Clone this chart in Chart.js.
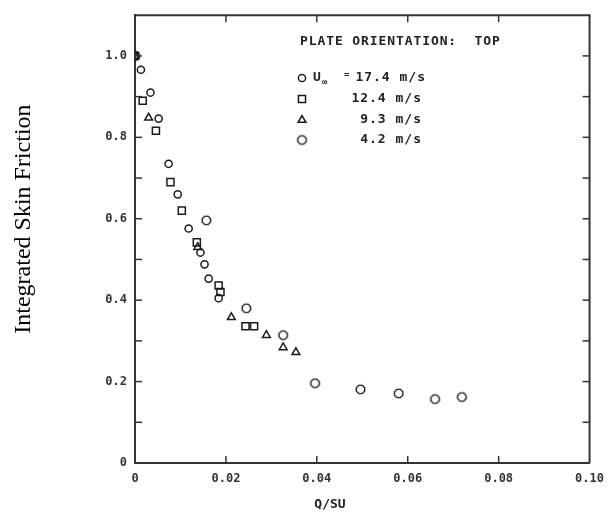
<!DOCTYPE html>
<html>
<head>
<meta charset="utf-8">
<script src="https://cdn.jsdelivr.net/npm/chart.js@4.4.1/dist/chart.umd.min.js"></script>
<style>
  html, body { margin: 0; padding: 0; background: #fff; }
  #wrap { width: 613px; height: 515px; }
</style>
</head>
<body>
<div id="wrap"><canvas id="skinChart" width="613" height="515"></canvas></div>
<script>
// values (Q/SU vs integrated skin friction)
const legendTitle = 'PLATE ORIENTATION:  TOP';
const speedLabels = ['17.4 m/s', '12.4 m/s', '9.3 m/s', '4.2 m/s'];

const u174Q  = [0.0, 0.0013, 0.0034, 0.0052, 0.0074, 0.0094, 0.0118, 0.0144, 0.0153, 0.0162, 0.0184];
const u174Cf = [1.0, 0.966, 0.91, 0.846, 0.735, 0.66, 0.576, 0.517, 0.488, 0.453, 0.405];

const u124Q  = [0.0, 0.0017, 0.0046, 0.0078, 0.0103, 0.0136, 0.0184, 0.0188, 0.0243, 0.0262];
const u124Cf = [1.0, 0.89, 0.816, 0.69, 0.62, 0.542, 0.436, 0.42, 0.336, 0.336];

const u93Q  = [0.0, 0.003, 0.0138, 0.0212, 0.0289, 0.0326, 0.0354];
const u93Cf = [1.0, 0.848, 0.53, 0.358, 0.314, 0.284, 0.272];

const u42Q  = [0.0, 0.0157, 0.0245, 0.0326, 0.0396, 0.0496, 0.058, 0.066, 0.0719];
const u42Cf = [1.0, 0.596, 0.38, 0.314, 0.196, 0.181, 0.171, 0.157, 0.162];

const xTicks = [0, 0.02, 0.04, 0.06, 0.08, 0.10];
const yTicks = [0, 0.2, 0.4, 0.6, 0.8, 1.0];

const INK = '#1a1a1a';
const MONO = '"DejaVu Sans Mono", "Liberation Mono", monospace';

// octagon marker (no such pointStyle in chart.js)
function octagonMarker(r) {
    const c = document.createElement('canvas');
    const s = Math.ceil(r * 2 + 4);
    c.width = s; c.height = s;
    const g = c.getContext('2d');
    g.strokeStyle = INK;
    g.lineWidth = 1.4;
    g.beginPath();
    for (let i = 0; i < 8; i++) {
        const a = Math.PI / 8 + i * Math.PI / 4;
        const px = s / 2 + r * Math.cos(a), py = s / 2 + r * Math.sin(a);
        if (i) g.lineTo(px, py); else g.moveTo(px, py);
    }
    g.closePath();
    g.stroke();
    return c;
}

function toPoints(xs, ys) {
    return xs.map((x, i) => ({ x: x, y: ys[i] }));
}

function makeSet(label, xs, ys, style, r) {
    return {
        label: label,
        data: toPoints(xs, ys),
        pointStyle: style,
        pointRadius: r,
        pointHoverRadius: r,
        borderColor: INK,
        backgroundColor: 'rgba(0,0,0,0)',
        pointBorderWidth: 1.5,
        showLine: false
    };
}

// inward tick marks on all four sides + top/right frame
const frameTicks = {
    id: 'frameTicks',
    afterDatasetsDraw(chart) {
        const { ctx, chartArea: a, scales } = chart;
        const len = 7;
        ctx.save();
        ctx.strokeStyle = '#333';
        ctx.lineWidth = 1.5;
        const seg = (x1, y1, x2, y2) => { ctx.beginPath(); ctx.moveTo(x1, y1); ctx.lineTo(x2, y2); ctx.stroke(); };
        scales.x.ticks.forEach(t => {
            const px = scales.x.getPixelForValue(t.value);
            if (px <= a.left + 2 || px >= a.right - 2) return;
            seg(px, a.bottom, px, a.bottom - len);
            seg(px, a.top, px, a.top + len);
        });
        scales.y.ticks.forEach(t => {
            const py = scales.y.getPixelForValue(t.value);
            if (py <= a.top + 2 || py >= a.bottom - 2) return;
            seg(a.left, py, a.left + len, py);
            seg(a.right, py, a.right - len, py);
        });
        ctx.lineWidth = 2;
        seg(a.left - 1, a.top, a.right + 1, a.top);
        seg(a.right, a.top, a.right, a.bottom);
        ctx.restore();
    }
};

// axis titles
const axisTitles = {
    id: 'axisTitles',
    afterDraw(chart) {
        const { ctx, chartArea: a } = chart;
        ctx.save();
        ctx.fillStyle = '#000';
        ctx.font = '24px "Liberation Serif", "Times New Roman", serif';
        ctx.textAlign = 'center';
        ctx.textBaseline = 'middle';
        ctx.translate(a.left - 111, (a.top + a.bottom) / 2 - 20);
        ctx.rotate(-Math.PI / 2);
        ctx.fillText('Integrated Skin Friction', 0, 0);
        ctx.restore();

        ctx.save();
        ctx.fillStyle = '#222';
        ctx.font = 'bold 13px ' + MONO;
        ctx.textAlign = 'center';
        ctx.textBaseline = 'middle';
        ctx.fillText('Q/SU', a.left + 195, a.bottom + 42);
        ctx.restore();
    }
};

// legend box drawn inside the plot, like the scanned figure
const insideLegend = {
    id: 'insideLegend',
    afterDraw(chart) {
        const { ctx, chartArea: a } = chart;
        const x0 = a.left + 165;
        const rowsY = [78, 99, 120, 140];
        const textRight = a.left + 291;
        ctx.save();
        ctx.fillStyle = '#222';
        ctx.textBaseline = 'middle';
        ctx.font = 'bold 13px ' + MONO;
        ctx.letterSpacing = '0.9px';
        ctx.textAlign = 'left';
        ctx.fillText(legendTitle, x0, 42);

        chart.data.datasets.forEach((ds, i) => {
            const y = rowsY[i];
            ctx.save();
            ctx.strokeStyle = INK;
            ctx.fillStyle = 'rgba(0,0,0,0)';
            ctx.lineWidth = 1.5;
            Chart.helpers.drawPoint(ctx, { pointStyle: ds.pointStyle, radius: ds.pointRadius, borderWidth: 1.5, rotation: 0 }, x0 + 2, y);
            ctx.restore();

            ctx.fillStyle = '#222';
            ctx.font = 'bold 13px ' + MONO;
            ctx.letterSpacing = '1px';
            ctx.textAlign = 'right';
            ctx.fillText(speedLabels[i], textRight - (i ? 4 : 0), y);
        });

        // U∞ = on first row
        ctx.letterSpacing = '0px';
        ctx.textAlign = 'left';
        ctx.font = 'bold 13px ' + MONO;
        ctx.fillText('U', x0 + 13, rowsY[0]);
        ctx.font = 'bold 9px ' + MONO;
        ctx.fillText('\u221E', x0 + 22, rowsY[0] + 5);
        ctx.fillText('=', x0 + 44, rowsY[0] - 3);
        ctx.restore();
    }
};

const ctx = document.getElementById('skinChart');

// @ts-ignore
const skinChart = new Chart(ctx, {
    type: 'scatter',
    data: {
        datasets: [
            makeSet(speedLabels[0], u174Q, u174Cf, 'circle', 3.6),
            makeSet(speedLabels[1], u124Q, u124Cf, 'rect', 5),
            makeSet(speedLabels[2], u93Q, u93Cf, 'triangle', 4.5),
            makeSet(speedLabels[3], u42Q, u42Cf, octagonMarker(4.5), 5)
        ]
    },
    options: {
        responsive: false,
        devicePixelRatio: 1,
        animation: false,
        layout: { padding: { top: 13, right: 17, left: 0, bottom: 0 } },
        plugins: {
            legend: { display: false },
            tooltip: { enabled: false }
        },
        scales: {
            x: {
                type: 'linear',
                min: xTicks[0],
                max: xTicks[xTicks.length - 1],
                afterFit: s => { s.height = 52; },
                afterBuildTicks: s => { s.ticks = xTicks.map(v => ({ value: v })); },
                grid: { display: false, drawTicks: false },
                border: { display: true, color: '#333', width: 2 },
                ticks: {
                    padding: 9,
                    color: '#333',
                    font: { family: MONO, size: 12, weight: 'bold' },
                    maxRotation: 0,
                    callback: v => v === 0 ? '0' : v.toFixed(2)
                }
            },
            y: {
                type: 'linear',
                min: 0,
                max: 1.1,
                afterFit: s => { s.width = 135; },
                afterBuildTicks: s => {
                    const all = [];
                    for (let k = 0; k <= 10; k++) all.push({ value: k / 10 });
                    s.ticks = all;
                },
                grid: { display: false, drawTicks: false },
                border: { display: true, color: '#333', width: 2 },
                ticks: {
                    padding: 8,
                    color: '#333',
                    font: { family: MONO, size: 12, weight: 'bold' },
                    callback: v => {
                        const hit = yTicks.find(t => Math.abs(t - v) < 1e-6);
                        if (hit === undefined) return '';
                        return hit === 0 ? '0' : hit.toFixed(1);
                    }
                }
            }
        }
    },
    plugins: [frameTicks, axisTitles, insideLegend]
});
</script>
</body>
</html>
